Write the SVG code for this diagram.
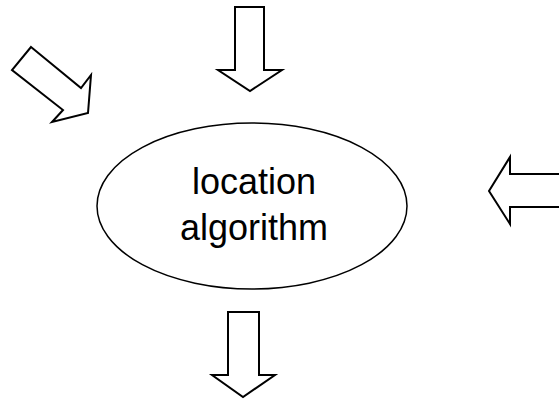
<svg xmlns="http://www.w3.org/2000/svg" width="559" height="399" viewBox="0 0 559 399">
<style>
.arrow{fill:#fff;stroke:#000;stroke-width:2;stroke-linejoin:miter}
.node{fill:#fff;stroke:#000;stroke-width:1.5}
.label{font-family:"Liberation Sans",Arial,sans-serif;font-size:36px;fill:#000;text-anchor:middle}
</style>
<rect width="559" height="399" fill="#fff"/>
<g id="connectors">
<polygon id="arrow-top" class="arrow" points="235,7 264,7 264,70 282,70 250,91 218,70 235,70"/>
<polygon id="arrow-left" class="arrow" points="31,47 81,88 91,75 88,113 52,122 63,110 12,70"/>
<polygon id="arrow-right" class="arrow" points="561,174 510,174 510,157 489,191 510,224 510,207 561,207"/>
<polygon id="arrow-bottom" class="arrow" points="228,312 259,312 259,375 275,375 243,397 212,375 228,375"/>
</g>
<g id="node-location">
<ellipse class="node" cx="252" cy="206" rx="155" ry="83"/>
<text class="label" x="254" y="194">location</text>
<text class="label" x="254" y="240">algorithm</text>
</g>
</svg>
